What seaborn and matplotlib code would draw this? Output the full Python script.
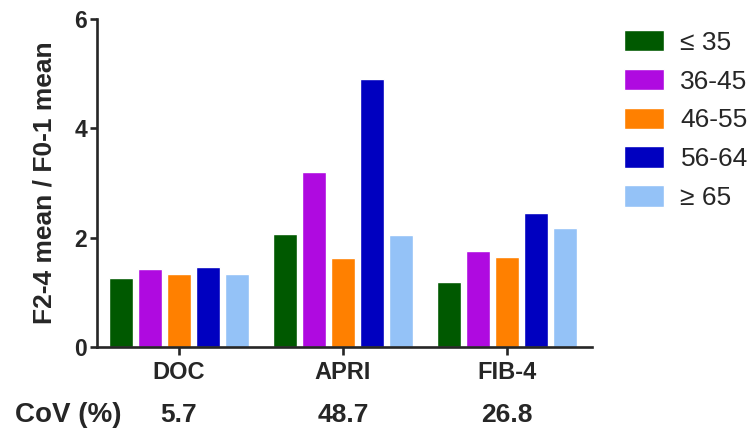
import pandas as pd
import matplotlib
matplotlib.use("Agg")
import matplotlib.pyplot as plt
import matplotlib.transforms as mtransforms
import seaborn as sns

sns.set_style("ticks")
plt.rcParams["font.family"] = ["Liberation Sans", "DejaVu Sans"]

# data
indices = ["DOC", "APRI", "FIB-4"]
age_groups = ["≤ 35", "36-45", "46-55", "56-64", "≥ 65"]
ratio_le35 = [1.27, 2.06, 1.19]
ratio_36_45 = [1.42, 3.21, 1.75]
ratio_46_55 = [1.33, 1.63, 1.64]
ratio_56_64 = [1.46, 4.91, 2.45]
ratio_ge65 = [1.33, 2.04, 2.18]
cov_values = ["5.7", "48.7", "26.8"]

colors = ["#005900", "#AF0AE0", "#FF8000", "#0000C0", "#94C2F7"]

series = [ratio_le35, ratio_36_45, ratio_46_55, ratio_56_64, ratio_ge65]
rows = []
for grp, vals in zip(age_groups, series):
    for idx, v in zip(indices, vals):
        rows.append({"index": idx, "age": grp, "ratio": v})
df = pd.DataFrame(rows)

fig = plt.figure(figsize=(7.55, 4.33), dpi=100)
ax = fig.add_axes([97 / 755, 86 / 433, 495 / 755, 328 / 433])

sns.barplot(data=df, x="index", y="ratio", hue="age", order=indices,
            hue_order=age_groups, palette=colors, width=0.884, gap=0.172,
            errorbar=None, saturation=1, ax=ax)

ax.set_xlim(-0.5, 2.52)
ax.set_ylim(0, 6)
ax.set_yticks([0, 2, 4, 6])
sns.despine(ax=ax)
for s in ["left", "bottom"]:
    ax.spines[s].set_linewidth(1.9)
ax.tick_params(axis="y", length=5, width=1.9, labelsize=16.5, pad=2)
ax.tick_params(axis="x", length=6, width=1.9, labelsize=17, pad=4)
for lab in ax.get_xticklabels() + ax.get_yticklabels():
    lab.set_fontweight("bold")

ax.set_xlabel("")
ax.set_ylabel("F2-4 mean / F0-1 mean", fontsize=19, fontweight="bold")
ax.yaxis.set_label_coords(-0.081, 0.5)

# CoV row under the axis
trans = mtransforms.blended_transform_factory(ax.transData, fig.transFigure)
fig.text(15 / 755, 1 - 415 / 433, "CoV (%)", fontsize=20, fontweight="bold",
         ha="left", va="center")
for i, c in enumerate(cov_values):
    ax.text(i, 1 - 415 / 433, c, transform=trans, fontsize=19,
            fontweight="bold", ha="center", va="center", clip_on=False)

handles, labels = ax.get_legend_handles_labels()
ax.get_legend().remove()
fig.legend(handles, labels, loc="upper left",
           bbox_to_anchor=(624 / 755, 1 - 30 / 433), frameon=False,
           fontsize=19, handlelength=1.52, handleheight=0.87,
           handletextpad=0.62, labelspacing=0.53, borderpad=0,
           borderaxespad=0)

fig.savefig("out.png", dpi=100)
